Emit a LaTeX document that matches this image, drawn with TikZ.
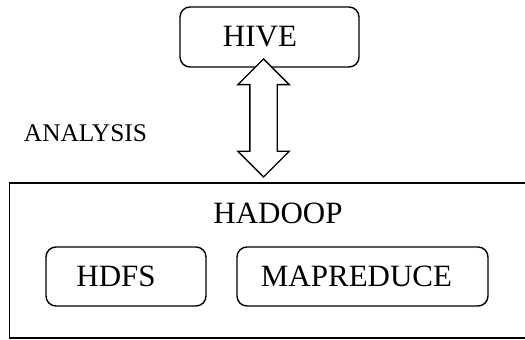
\documentclass[tikz,border=0pt]{standalone}
\usepackage{fontspec}
\setmainfont{Liberation Serif}
\usetikzlibrary{shapes.arrows,positioning}
\tikzset{
  rbox/.style={draw,rounded corners=5pt,line width=0.7pt,align=center,inner sep=0pt,font=\fontsize{15.5}{18}\selectfont},
  outer/.style={draw,line width=0.55pt,inner sep=0pt},
  lbl/.style={inner sep=1pt,font=\fontsize{15.5}{18}\selectfont},
  side/.style={inner sep=1pt,font=\fontsize{12.7}{15}\selectfont},
  dbl/.style={draw,fill=white,double arrow,rotate=90,line width=0.7pt,inner xsep=0pt,inner ysep=6.5pt,minimum height=59pt,double arrow head extend=6pt}
}
\begin{document}
\begin{tikzpicture}[x=0.5pt,y=-0.5pt]
\useasboundingbox (0,0) rectangle (525,340);
\node[outer,minimum width=261pt,minimum height=77.5pt] (hadoop) at (270.5,260.5) {};
\node[lbl] (hadooplbl) at (278,213) {HADOOP};
\node[rbox,minimum width=80pt,minimum height=29.5pt] (hdfs) at (126,276.5) {HDFS\hspace*{10pt}};
\node[rbox,minimum width=125.5pt,minimum height=29.5pt] (mapred) at (362.5,276.5) {MAPREDUCE\hspace*{6pt}};
\node[rbox,minimum width=89.5pt,minimum height=30pt] (hive) at (269.5,37) {HIVE\hspace*{9.5pt}};
\node[dbl] (link) at (263.5,118) {};
\node[side] (analysis) at (85.5,133) {ANALYSIS};
\end{tikzpicture}
\end{document}
